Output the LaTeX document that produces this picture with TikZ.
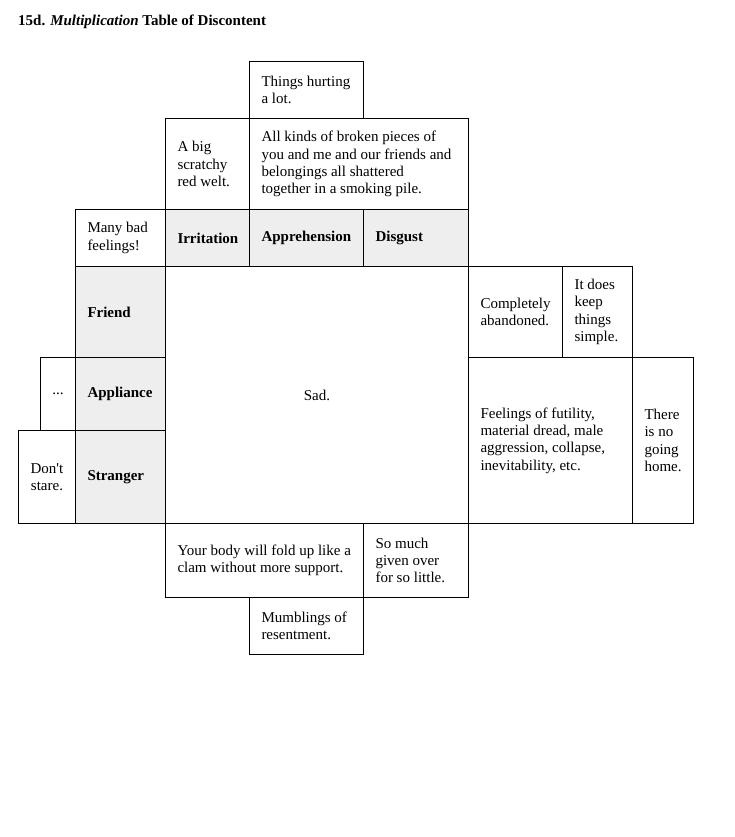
\documentclass[tikz,border=0pt]{standalone}
\usepackage{fontspec}
\setmainfont{Liberation Serif}
\usepackage{tikz}
\usetikzlibrary{positioning}
\definecolor{cellgray}{RGB}{238,238,238}

\begin{document}
\begin{tikzpicture}[
    x=1pt, y=-1pt,
    cell/.style={rectangle, draw, line width=1pt, anchor=north west, inner xsep=12pt, inner ysep=0pt, align=flush left, font=\fontsize{15}{17.25}\selectfont},
    head/.style={cell, fill=cellgray, font=\fontsize{15}{17.25}\selectfont\bfseries},
    mid/.style={cell, inner xsep=0pt, align=flush center}
]
\useasboundingbox (0,0) rectangle (734,837);

% TITULO
\node[anchor=base west, inner sep=0pt, font=\fontsize{15}{17.25}\selectfont\bfseries] (T) at (18,26) {15d. \textit{Multiplication} Table of Discontent};

% ARRIBA
\node[cell, text width=90pt, minimum height=57pt] (A) at (249,61) {Things hurting\\a lot.};
\node[cell, text width=60pt, minimum height=91pt] (B) at (165,118) {A big\\scratchy\\red welt.};
\node[cell, text width=195pt, minimum height=91pt] (C) at (249,118) {All kinds of broken pieces of\\you and me and our friends and\\belongings all shattered\\together in a smoking pile.};

% CABECERA
\node[cell, text width=66pt, minimum height=57pt] (D) at (75,209) {Many bad\\feelings!};
\node[head, text width=60pt, minimum height=57pt] (E) at (165,209) {Irritation};
\node[head, text width=90pt, minimum height=57pt] (F) at (249,209) {Apprehension};
\node[head, text width=81pt, minimum height=57pt] (G) at (363,209) {Disgust};

% IZQUIERDA
\node[head, text width=66pt, minimum height=91pt] (H) at (75,266) {Friend};
\node[head, text width=66pt, minimum height=73pt] (I) at (75,357) {Appliance};
\node[head, text width=66pt, minimum height=93pt] (J) at (75,430) {Stranger};
\node[mid, text width=35pt, minimum height=73pt] (K) at (40,357) {...};
\node[mid, text width=57pt, minimum height=93pt] (L) at (18,430) {Don\textquotesingle t\\stare.};

% CENTRO
\node[mid, text width=303pt, minimum height=257pt] (M) at (165,266) {Sad.};

% DERECHA
\node[cell, text width=70pt, minimum height=91pt] (N) at (468,266) {Completely\\abandoned.};
\node[cell, text width=46pt, minimum height=91pt] (O) at (562,266) {It does\\keep\\things\\simple.};
\node[cell, text width=140pt, minimum height=166pt] (P) at (468,357) {Feelings of futility,\\material dread, male\\aggression, collapse,\\inevitability, etc.};
\node[cell, text width=37pt, minimum height=166pt] (Q) at (632,357) {There\\is no\\going\\home.};

% ABAJO
\node[cell, text width=174pt, minimum height=74pt] (R) at (165,523) {Your body will fold up like a\\clam without more support.};
\node[cell, text width=81pt, minimum height=74pt] (S) at (363,523) {So much\\given over\\for so little.};
\node[cell, text width=90pt, minimum height=57pt] (U) at (249,597) {Mumblings of\\resentment.};

\end{tikzpicture}
\end{document}
